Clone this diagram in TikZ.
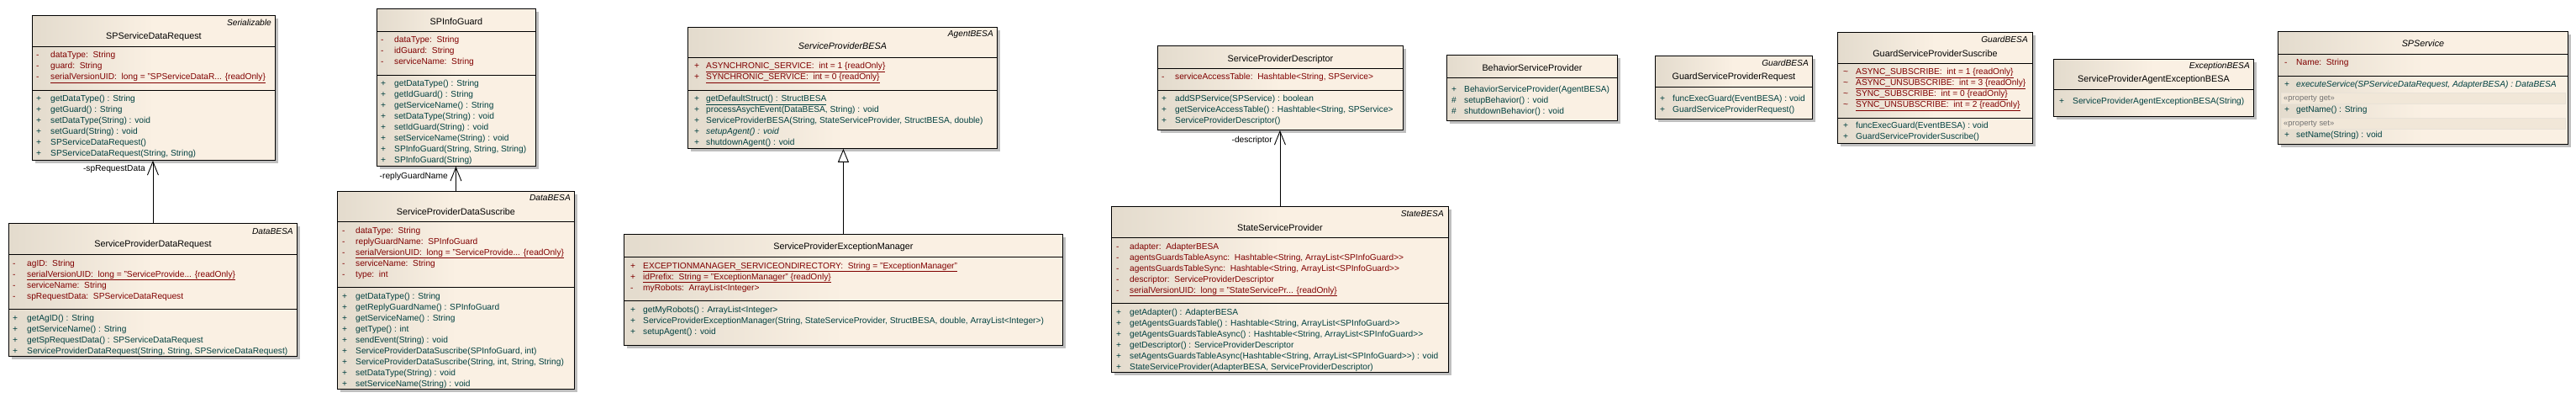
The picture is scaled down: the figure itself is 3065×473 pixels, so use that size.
\documentclass[tikz,border=0pt]{standalone}
\usepackage{fontspec}
\setmainfont{Liberation Sans}
\usetikzlibrary{arrows.meta,shadows}
\definecolor{clsleft}{RGB}{227,219,205}
\definecolor{clsright}{RGB}{250,240,227}
\definecolor{attrcol}{RGB}{128,0,0}
\definecolor{opcol}{RGB}{0,64,64}
\definecolor{bandcol}{RGB}{241,231,216}

% class box: name, left, top, right, bottom (pixels)
\newcommand{\umlclass}[5]{\node[classbox, minimum width={#4-#2}, minimum height={#5-#3}] (#1) at (#2,#3) {};}
% compartment line
\newcommand{\sep}[2]{\draw[sepline] (#1.west |- 0,#2) -- (#1.east |- 0,#2);}
% member rows: prefix, marker x, text x, first y, style, list
\newcommand{\members}[6]{%
  \foreach \v/\t [count=\i] in {#6}{%
    \node[#5] (#1-v\i) at (#2,{#4+13*(\i-1)}) {\v};
    \node[#5] (#1-\i) at (#3,{#4+13*(\i-1)}) {\t};}}

\begin{document}
\begin{tikzpicture}[x=1pt, y=-1pt,
    classbox/.style={rectangle, draw, line width=0.9pt, anchor=north west, inner sep=0pt,
      left color=clsleft, right color=clsright, middle color=clsright,
      drop shadow={shadow xshift=3.5pt, shadow yshift=-3.5pt, fill=black!25, opacity=1}},
    sepline/.style={line width=0.9pt},
    member/.style={font=\fontsize{10.2}{12}\selectfont, inner sep=0pt, anchor=west, text height=7pt, text depth=1pt},
    attr/.style={member, text=attrcol},
    oper/.style={member, text=opcol},
    cname/.style={font=\fontsize{10.8}{13}\selectfont, inner sep=0pt, text height=7.5pt, text depth=1pt},
    stereo/.style={member, anchor=east, font=\fontsize{10.2}{12}\selectfont\itshape},
    rolelabel/.style={member, anchor=east},
    band/.style={fill=bandcol, draw=clsleft!80, line width=0.6pt},
    bandtext/.style={member, font=\fontsize{9.4}{11}\selectfont, text=black!55},
    assoc/.style={line width=0.9pt, -{Straight Barb[length=16pt, width=13pt, line width=0.9pt]}},
    inherit/.style={line width=0.9pt, -{Triangle[open, fill=white, length=16pt, width=13pt, line width=0.9pt]}}]
    \useasboundingbox (0,0) rectangle (3065,473);

    % SPServiceDataRequest
    \umlclass{sdr}{38}{18}{327}{190}
    \sep{sdr}{55} \sep{sdr}{107}
    \node[stereo] (sdr-st) at (323,28) {Serializable};
    \node[cname] (sdr-n) at (sdr.north |- 0,43) {SPServiceDataRequest};
    \members{sdr-a}{43}{60}{66}{attr}{-/dataType:~~String, -/guard:~~String,
      -/{\underline{serialVersionUID:~~long = "SPServiceDataR... \{readOnly\}}}}
    \members{sdr-o}{43}{60}{118}{oper}{+/getDataType() : String, +/getGuard() : String,
      +/setDataType(String) : void, +/setGuard(String) : void, +/SPServiceDataRequest(),
      +/{SPServiceDataRequest(String, String)}}

    % ServiceProviderDataRequest
    \umlclass{pdr}{10}{265}{353}{423}
    \sep{pdr}{302} \sep{pdr}{367}
    \node[stereo] (pdr-st) at (349,275) {DataBESA};
    \node[cname] (pdr-n) at (pdr.north |- 0,290) {ServiceProviderDataRequest};
    \members{pdr-a}{15}{32}{313}{attr}{-/agID:~~String,
      -/{\underline{serialVersionUID:~~long = "ServiceProvide... \{readOnly\}}},
      -/serviceName:~~String, -/spRequestData:~~SPServiceDataRequest}
    \members{pdr-o}{15}{32}{378}{oper}{+/getAgID() : String, +/getServiceName() : String,
      +/getSpRequestData() : SPServiceDataRequest,
      +/{ServiceProviderDataRequest(String, String, SPServiceDataRequest)}}

    % SPInfoGuard
    \umlclass{ig}{448}{10}{637}{197}
    \sep{ig}{37} \sep{ig}{89}
    \node[cname] (ig-n) at (ig.north |- 0,26) {SPInfoGuard};
    \members{ig-a}{453}{469}{48}{attr}{-/dataType:~~String, -/idGuard:~~String, -/serviceName:~~String}
    \members{ig-o}{453}{469}{100}{oper}{+/getDataType() : String, +/getIdGuard() : String,
      +/getServiceName() : String, +/setDataType(String) : void, +/setIdGuard(String) : void,
      +/setServiceName(String) : void, +/{SPInfoGuard(String, String, String)}, +/SPInfoGuard(String)}

    % ServiceProviderDataSuscribe
    \umlclass{pds}{401}{227}{683}{462}
    \sep{pds}{263} \sep{pds}{341}
    \node[stereo] (pds-st) at (679,236) {DataBESA};
    \node[cname] (pds-n) at (pds.north |- 0,252) {ServiceProviderDataSuscribe};
    \members{pds-a}{407}{423}{274}{attr}{-/dataType:~~String, -/replyGuardName:~~SPInfoGuard,
      -/{\underline{serialVersionUID:~~long = "ServiceProvide... \{readOnly\}}},
      -/serviceName:~~String, -/type:~~int}
    \members{pds-o}{407}{423}{352}{oper}{+/getDataType() : String, +/getReplyGuardName() : SPInfoGuard,
      +/getServiceName() : String, +/getType() : int, +/sendEvent(String) : void,
      +/{ServiceProviderDataSuscribe(SPInfoGuard, int)},
      +/{ServiceProviderDataSuscribe(String, int, String, String)},
      +/setDataType(String) : void, +/setServiceName(String) : void}

    % ServiceProviderBESA
    \umlclass{spb}{818}{32}{1186}{176}
    \sep{spb}{68} \sep{spb}{107}
    \node[stereo] (spb-st) at (1182,41) {AgentBESA};
    \node[cname, font=\fontsize{10.8}{13}\selectfont\itshape] (spb-n) at (spb.north |- 0,55) {ServiceProviderBESA};
    \members{spb-a}{826}{840}{79}{attr}{+/{\underline{ASYNCHRONIC\_SERVICE:~~int = 1 \{readOnly\}}},
      +/{\underline{SYNCHRONIC\_SERVICE:~~int = 0 \{readOnly\}}}}
    \members{spb-o}{826}{840}{118}{oper}{+/{\underline{getDefaultStruct() : StructBESA}},
      +/{processAsychEvent(DataBESA, String) : void},
      +/{ServiceProviderBESA(String, StateServiceProvider, StructBESA, double)},
      +/{\itshape setupAgent() : void}, +/shutdownAgent() : void}

    % ServiceProviderExceptionManager
    \umlclass{spem}{742}{278}{1264}{410}
    \sep{spem}{305} \sep{spem}{357}
    \node[cname] (spem-n) at (spem.north |- 0,293) {ServiceProviderExceptionManager};
    \members{spem-a}{750}{765}{316}{attr}{+/{\underline{EXCEPTIONMANAGER\_SERVICEONDIRECTORY:~~String = "ExceptionManager"}},
      +/{\underline{idPrefix:~~String = "ExceptionManager" \{readOnly\}}},
      -/myRobots:~~ArrayList<Integer>}
    \members{spem-o}{750}{765}{368}{oper}{+/getMyRobots() : ArrayList<Integer>,
      +/{ServiceProviderExceptionManager(String, StateServiceProvider, StructBESA, double, ArrayList<Integer>)},
      +/setupAgent() : void}

    % ServiceProviderDescriptor
    \umlclass{spd}{1377}{54}{1669}{154}
    \sep{spd}{81} \sep{spd}{107}
    \node[cname] (spd-n) at (spd.north |- 0,70) {ServiceProviderDescriptor};
    \members{spd-a}{1382}{1398}{92}{attr}{-/{serviceAccessTable:~~Hashtable<String, SPService>}}
    \members{spd-o}{1382}{1398}{118}{oper}{+/addSPService(SPService) : boolean,
      +/{getServiceAccessTable() : Hashtable<String, SPService>}, +/ServiceProviderDescriptor()}

    % StateServiceProvider
    \umlclass{ssp}{1322}{245}{1723}{442}
    \sep{ssp}{282} \sep{ssp}{360}
    \node[stereo] (ssp-st) at (1718,254) {StateBESA};
    \node[cname] (ssp-n) at (ssp.north |- 0,271) {StateServiceProvider};
    \members{ssp-a}{1328}{1344}{293}{attr}{-/adapter:~~AdapterBESA,
      -/{agentsGuardsTableAsync:~~Hashtable<String, ArrayList<SPInfoGuard>{}>},
      -/{agentsGuardsTableSync:~~Hashtable<String, ArrayList<SPInfoGuard>{}>},
      -/descriptor:~~ServiceProviderDescriptor,
      -/{\underline{serialVersionUID:~~long = "StateServicePr... \{readOnly\}}}}
    \members{ssp-o}{1328}{1344}{371}{oper}{+/getAdapter() : AdapterBESA,
      +/{getAgentsGuardsTable() : Hashtable<String, ArrayList<SPInfoGuard>{}>},
      +/{getAgentsGuardsTableAsync() : Hashtable<String, ArrayList<SPInfoGuard>{}>},
      +/getDescriptor() : ServiceProviderDescriptor,
      +/{setAgentsGuardsTableAsync(Hashtable<String, ArrayList<SPInfoGuard>{}>) : void},
      +/{StateServiceProvider(AdapterBESA, ServiceProviderDescriptor)}}

    % BehaviorServiceProvider
    \umlclass{bsp}{1721}{65}{1924}{143}
    \sep{bsp}{92}
    \node[cname] (bsp-n) at (bsp.north |- 0,81) {BehaviorServiceProvider};
    \members{bsp-o}{1727}{1742}{107}{oper}{+/BehaviorServiceProvider(AgentBESA),
      \#/setupBehavior() : void, \#/shutdownBehavior() : void}

    % GuardServiceProviderRequest
    \umlclass{gspr}{1969}{66}{2156}{141}
    \sep{gspr}{103}
    \node[stereo] (gspr-st) at (2152,76) {GuardBESA};
    \node[cname] (gspr-n) at (gspr.north |- 0,91) {GuardServiceProviderRequest};
    \members{gspr-o}{1975}{1990}{118}{oper}{+/funcExecGuard(EventBESA) : void,
      +/GuardServiceProviderRequest()}

    % GuardServiceProviderSuscribe
    \umlclass{gsps}{2186}{38}{2418}{170}
    \sep{gsps}{75} \sep{gsps}{140}
    \node[stereo] (gsps-st) at (2413,48) {GuardBESA};
    \node[cname] (gsps-n) at (gsps.north |- 0,64) {GuardServiceProviderSuscribe};
    \members{gsps-a}{2193}{2208}{86}{attr}{\textasciitilde/{\underline{ASYNC\_SUBSCRIBE:~~int = 1 \{readOnly\}}},
      \textasciitilde/{\underline{ASYNC\_UNSUBSCRIBE:~~int = 3 \{readOnly\}}},
      \textasciitilde/{\underline{SYNC\_SUBSCRIBE:~~int = 0 \{readOnly\}}},
      \textasciitilde/{\underline{SYNC\_UNSUBSCRIBE:~~int = 2 \{readOnly\}}}}
    \members{gsps-o}{2193}{2208}{150}{oper}{+/funcExecGuard(EventBESA) : void,
      +/GuardServiceProviderSuscribe()}

    % ServiceProviderAgentExceptionBESA
    \umlclass{spae}{2443}{70}{2681}{138}
    \sep{spae}{106}
    \node[stereo] (spae-st) at (2677,79) {ExceptionBESA};
    \node[cname] (spae-n) at (spae.north |- 0,94) {ServiceProviderAgentExceptionBESA};
    \members{spae-o}{2450}{2466}{121}{oper}{+/ServiceProviderAgentExceptionBESA(String)}

    % SPService
    \umlclass{sps}{2710}{37}{3055}{171}
    \sep{sps}{64} \sep{sps}{90}
    \node[cname, font=\fontsize{10.8}{13}\selectfont\itshape] (sps-n) at (sps.north |- 0,52) {SPService};
    \members{sps-a}{2718}{2732}{75}{attr}{-/Name:~~String}
    \members{sps-o}{2718}{2732}{101}{oper}{+/{\itshape executeService(SPServiceDataRequest, AdapterBESA) : DataBESA}}
    \draw[band] (2714,110) rectangle (3052,123);
    \node[bandtext] (sps-get) at (2717,117) {«property get»};
    \members{sps-g}{2718}{2732}{131}{oper}{+/getName() : String}
    \draw[band] (2714,140) rectangle (3052,153);
    \node[bandtext] (sps-set) at (2717,147) {«property set»};
    \members{sps-s}{2718}{2732}{161}{oper}{+/setName(String) : void}

    % Connectors
    \draw[assoc] (pdr.north) -- (pdr.north |- sdr.south);
    \node[rolelabel] (l-spreq) at (173,201) {-spRequestData};
    \draw[assoc] (pds.north) -- (pds.north |- ig.south);
    \node[rolelabel] (l-reply) at (533,210) {-replyGuardName};
    \draw[inherit] (spem.north) -- (spem.north |- spb.south);
    \draw[assoc] (ssp.north) -- (ssp.north |- spd.south);
    \node[rolelabel] (l-desc) at (1514,167) {-descriptor};

\end{tikzpicture}
\end{document}
